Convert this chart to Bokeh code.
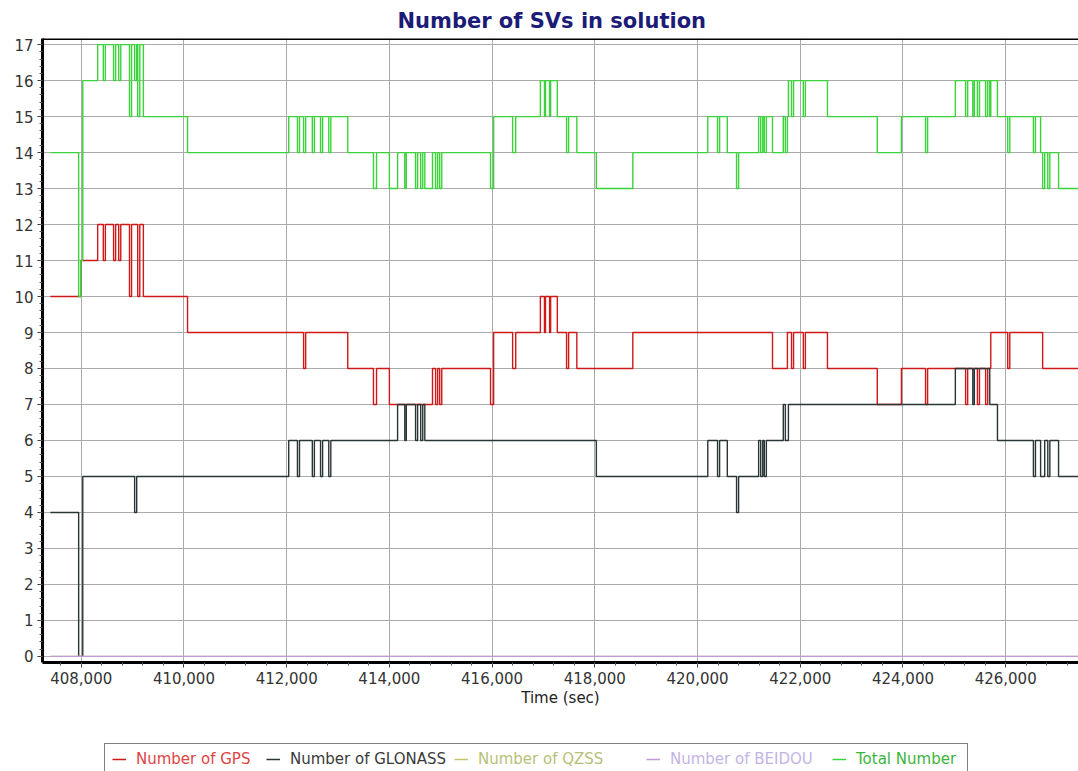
from bokeh.plotting import figure
from bokeh.layouts import column
from bokeh.models import (Range1d, SingleIntervalTicker, NumeralTickFormatter, Legend,
                          LegendItem, Span, ColumnDataSource)
from bokeh.embed import file_html
from bokeh.resources import INLINE

# ---- data (step changes: time in sec, satellite counts) ----
time_s = [407400, 407950, 407990, 408030, 408320, 408430, 408470, 408630, 408670, 408730,
          408770, 408940, 408980, 409040, 409080, 409100, 409140, 409210, 410070, 412040,
          412210, 412250, 412330, 412370, 412500, 412540, 412660, 412700, 412820, 412860,
          413190, 413690, 413750, 414000, 414160, 414300, 414330, 414510, 414550, 414610,
          414650, 414690, 414840, 414900, 414940, 414980, 415020, 415970, 416030, 416400,
          416460, 416940, 417020, 417040, 417120, 417140, 417270, 417450, 417490, 417650,
          418030, 418740, 420200, 420390, 420430, 420580, 420760, 420800, 421190, 421230,
          421270, 421300, 421340, 421460, 421670, 421710, 421750, 421770, 421830, 421870,
          422060, 422100, 422530, 423500, 423970, 424440, 424480, 425020, 425220, 425260,
          425360, 425390, 425450, 425490, 425610, 425650, 425690, 425710, 425840, 426040,
          426080, 426540, 426580, 426680, 426720, 426760, 426820, 426860, 427030, 427450]
gps = [10, 10, 11, 11, 12, 11, 12, 11, 12, 11,
       12, 10, 12, 12, 12, 10, 12, 10, 9, 9,
       9, 9, 8, 9, 9, 9, 9, 9, 9, 9,
       8, 7, 8, 7, 7, 7, 7, 7, 7, 7,
       7, 7, 8, 7, 8, 7, 8, 7, 9, 8,
       9, 10, 9, 10, 9, 10, 9, 8, 9, 8,
       8, 9, 9, 9, 9, 9, 9, 9, 9, 9,
       9, 9, 9, 8, 8, 8, 9, 9, 8, 9,
       8, 9, 8, 7, 8, 7, 8, 8, 7, 8,
       8, 8, 7, 8, 7, 8, 8, 9, 9, 8,
       9, 9, 9, 9, 8, 8, 8, 8, 8, 8]
glonass = [4, 0, 0, 5, 5, 5, 5, 5, 5, 5,
           5, 5, 5, 4, 5, 5, 5, 5, 5, 6,
           5, 6, 6, 6, 5, 6, 5, 6, 5, 6,
           6, 6, 6, 6, 7, 6, 7, 6, 7, 6,
           7, 6, 6, 6, 6, 6, 6, 6, 6, 6,
           6, 6, 6, 6, 6, 6, 6, 6, 6, 6,
           5, 5, 6, 5, 6, 5, 4, 5, 6, 5,
           6, 5, 6, 6, 7, 6, 6, 7, 7, 7,
           7, 7, 7, 7, 7, 7, 7, 8, 8, 8,
           7, 8, 8, 8, 8, 8, 7, 7, 6, 6,
           6, 5, 6, 5, 5, 6, 5, 6, 5, 5]
total = [14, 10, 11, 16, 17, 16, 17, 16, 17, 16,
         17, 15, 17, 16, 17, 15, 17, 15, 14, 15,
         14, 15, 14, 15, 14, 15, 14, 15, 14, 15,
         14, 13, 14, 13, 14, 13, 14, 13, 14, 13,
         14, 13, 14, 13, 14, 13, 14, 13, 15, 14,
         15, 16, 15, 16, 15, 16, 15, 14, 15, 14,
         13, 14, 15, 14, 15, 14, 13, 14, 15, 14,
         15, 14, 15, 14, 15, 14, 15, 16, 15, 16,
         15, 16, 15, 14, 15, 14, 15, 16, 15, 16,
         15, 16, 15, 16, 15, 16, 15, 16, 15, 14,
         15, 14, 15, 14, 13, 14, 13, 14, 13, 13]
flat_time = [407400, 427450]
qzss = [0, 0]
beidou = [0, 0]

x_tick_step = 2000

series_names = ["Number of GPS", "Number of GLONASS", "Number of QZSS",
                "Number of BEIDOU", "Total Number"]
line_colors = ["#d01818", "#2a3535", "#c3c36e", "#c29ad6", "#3ad43a"]
text_colors = ["#dd4444", "#3a3a3a", "#b9bf78", "#c4b4e4", "#3cb43c"]

FONT = "DejaVu Sans"

p = figure(width=1078, height=720, output_backend="svg", toolbar_location=None,
           x_range=Range1d(407246, 427418), y_range=Range1d(-0.17, 17.17),
           min_border_left=42, min_border_right=0, min_border_top=38,
           min_border_bottom=58, background_fill_color="white",
           border_fill_color="white", outline_line_color=None)

p.title.text = "Number of SVs in solution"
p.title.align = "left"
p.title.offset = 355
p.title.text_font = FONT
p.title.text_font_style = "bold"
p.title.text_font_size = "21px"
p.title.text_color = "#1c1c78"
p.title.standoff = 12

src = ColumnDataSource(dict(t=time_s, gps=gps, glonass=glonass, total=total))
src_flat = ColumnDataSource(dict(t=flat_time, qzss=qzss, beidou=beidou))

p.step(x="t", y="gps", source=src, mode="after", line_color=line_colors[0], line_width=1.4)
p.step(x="t", y="glonass", source=src, mode="after", line_color=line_colors[1], line_width=1.4)
p.line(x="t", y="qzss", source=src_flat, line_color=line_colors[2], line_width=1.4)
p.line(x="t", y="beidou", source=src_flat, line_color=line_colors[3], line_width=1.4)
p.step(x="t", y="total", source=src, mode="after", line_color=line_colors[4], line_width=1.4)

# axes
xa = p.xaxis[0]
xa.ticker = SingleIntervalTicker(interval=x_tick_step, num_minor_ticks=5)
xa.formatter = NumeralTickFormatter(format="0,0")
xa.axis_label = "Time (sec)"
ya = p.yaxis[0]
ya.ticker = SingleIntervalTicker(interval=1, num_minor_ticks=5)
for ax in (xa, ya):
    ax.axis_line_color = "black"
    ax.axis_line_width = 3
    ax.major_tick_in = 0
    ax.major_tick_out = 5
    ax.minor_tick_in = 0
    ax.minor_tick_out = 3
    ax.major_tick_line_color = "#333333"
    ax.minor_tick_line_color = "#555555"
    ax.major_label_text_font = FONT
    ax.major_label_text_font_size = "15px"
    ax.major_label_text_color = "#333333"
    ax.major_label_standoff = 4
xa.axis_label_text_font = FONT
xa.axis_label_text_font_size = "15px"
xa.axis_label_text_font_style = "normal"
xa.axis_label_text_color = "#222222"
xa.axis_label_standoff = 2

p.xgrid.ticker = xa.ticker
p.ygrid.ticker = ya.ticker
p.grid.grid_line_color = "#aaaaaa"
p.grid.grid_line_width = 1

p.add_layout(Span(location=17.17, dimension="width", line_color="black", line_width=3))

# ---- legend strip (separate figure below the chart) ----
lp = figure(width=1078, height=51, output_backend="svg", toolbar_location=None,
            x_range=Range1d(0, 1), y_range=Range1d(0, 1), x_axis_type=None,
            y_axis_type=None, min_border=0, outline_line_color=None,
            background_fill_color="white", border_fill_color="white")
lp.grid.visible = False

dummy = lp.line(x=[-5, -4], y=[-5, -4], line_alpha=0)
box = Legend(items=[LegendItem(label=" ", renderers=[dummy])], location=(62, -2),
             padding=0, margin=0, glyph_width=1, glyph_height=28, label_height=28,
             label_width=861, label_standoff=0, border_line_color="black",
             border_line_width=1, background_fill_color="white", background_fill_alpha=1)
lp.add_layout(box, "center")

dash_x = [70, 224, 412, 604, 790]
for name, lc, tc, vx in zip(series_names, line_colors, text_colors, dash_x):
    key = lp.line(x=[-5, -4], y=[-5, -4], line_color=lc, line_width=1.5)
    lg = Legend(items=[LegendItem(label=name, renderers=[key])], location=(vx, 2),
                padding=0, margin=0, glyph_width=14, glyph_height=20, label_height=20,
                label_standoff=10, border_line_color=None, background_fill_alpha=0,
                label_text_font=FONT, label_text_font_size="15px", label_text_color=tc)
    lp.add_layout(lg, "center")

layout = column(p, lp, spacing=0)
open("out.html", "w").write(file_html(layout, INLINE))
